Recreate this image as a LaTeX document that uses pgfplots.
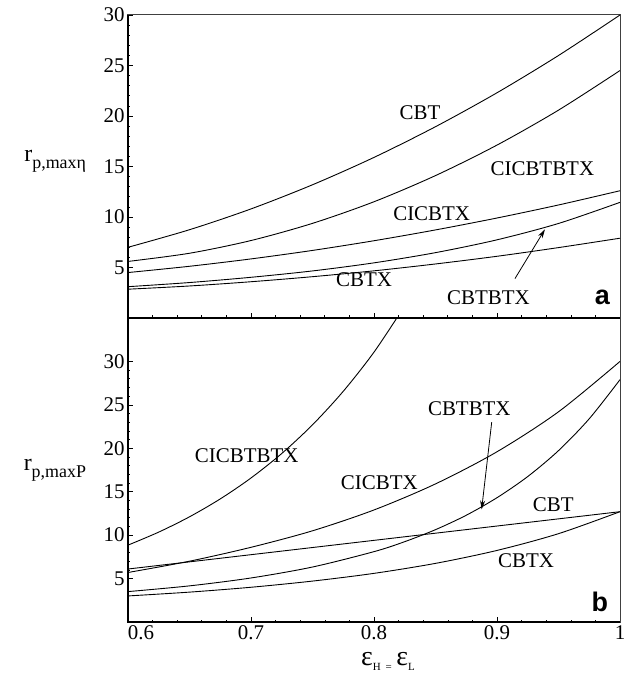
\documentclass[border=0pt]{standalone}
\usepackage{fontspec}
\setmainfont{Liberation Serif}
\newfontfamily\panelfont{Liberation Sans}
\usepackage{pgfplots}
\pgfplotsset{compat=1.18}
\usetikzlibrary{arrows.meta}

\newcommand{\lbl}{\fontsize{21}{24}\selectfont}
\newcommand{\sub}[1]{\raisebox{-0.28em}{\fontsize{18}{20}\selectfont #1}}
\newcommand{\epssub}[1]{\raisebox{-0.2em}{\fontsize{11}{12}\selectfont #1}}

\pgfplotsset{
  panel/.style={
    scale only axis,
    width=492bp,
    xmin=0.6, xmax=1.0,
    xtick={0.6,0.7,0.8,0.9,1.0},
    minor x tick num=4,
    minor y tick num=4,
    ytick={5,10,15,20,25,30},
    tick align=inside,
    xtick pos=bottom, ytick pos=left,
    major tick length=5bp, minor tick length=2.5bp,
    every tick/.style={black, line width=0.6bp},
    axis line style={black!75, line width=1bp},
    /pgf/number format/assume math mode=true,
    tick label style={font=\lbl},
    every axis y label/.style={at={(ticklabel cs:0.5)}, anchor=east, inner sep=0pt, xshift=-14bp},
    cycle list={{black}},
    every axis plot post/.append style={black, line width=0.9bp, smooth, tension=0.5, no markers},
    clip=true,
  },
}

\begin{document}
\begin{tikzpicture}
  % overall page area
  \path (-128bp,-57bp) rectangle (502bp,622bp);

  % ---------- panel b: maximum power ----------
  \begin{axis}[panel, name=bot,
    at={(0,0)}, anchor=south west, height=304bp,
    ymin=0, ymax=35,
    xticklabels={\hspace*{26bp}0.6,0.7,0.8,0.9,1},
    xlabel={\fontsize{28}{30}\selectfont ε\epssub{H}\,\epssub{=}\,ε\epssub{L}},
    xlabel style={inner sep=0pt, yshift=-9bp, xshift=14bp},
    ylabel={\fontsize{24}{26}\selectfont r\sub{p,maxP}},
  ]
    \addplot coordinates {(0.600,8.85)(0.625,10.35)(0.650,12.11)(0.675,14.17)(0.700,16.58)(0.725,19.40)(0.750,22.70)(0.775,26.56)(0.800,31.07)(0.825,36.40)};
    \addplot coordinates {(0.60,5.70)(0.65,7.00)(0.70,8.60)(0.75,10.50)(0.80,12.90)(0.85,15.90)(0.90,19.60)(0.95,24.20)(1.00,30.00)};
    \addplot coordinates {(0.60,6.10)(0.70,7.75)(0.80,9.40)(0.90,11.05)(1.00,12.70)};
    \addplot coordinates {(0.60,3.50)(0.65,4.16)(0.70,5.07)(0.75,6.33)(0.80,8.10)(0.825,9.25)(0.85,10.63)(0.875,12.29)(0.90,14.31)(0.925,16.75)(0.95,19.73)(0.975,23.40)(1.00,27.90)};
    \addplot coordinates {(0.60,3.00)(0.65,3.44)(0.70,4.00)(0.75,4.71)(0.80,5.60)(0.85,6.75)(0.90,8.24)(0.95,10.17)(1.00,12.70)};

    \node[font=\lbl] at (axis cs:0.6965,19.1) {CICBTBTX};
    \node[font=\lbl] at (axis cs:0.8775,24.6) {CBTBTX};
    \node[font=\lbl] at (axis cs:0.8043,16.0) {CICBTX};
    \node[font=\lbl] at (axis cs:0.9458,13.46) {CBT};
    \node[font=\lbl] at (axis cs:0.9236,7.04) {CBTX};
    \draw[-{Stealth[length=9bp,width=5bp]}, line width=0.8bp] (axis cs:0.8957,23.0) -- (axis cs:0.8875,12.96);
    \node[font=\panelfont\bfseries\fontsize{27}{30}\selectfont, anchor=base east, inner sep=0pt] at (rel axis cs:0.976,0.034) {b};
  \end{axis}
  \draw[line width=1.6bp] (0,304bp) -- (0,0) -- (492bp,0);

  % ---------- panel a: maximum efficiency ----------
  \begin{axis}[panel, name=top,
    at={(0,304bp)}, anchor=south west, height=303bp,
    ymin=0, ymax=30,
    xticklabels={},
    ylabel={\fontsize{24}{26}\selectfont r\sub{p,maxη}},
    ylabel style={yshift=5bp},
  ]
    \addplot coordinates {(0.60,7.00)(0.65,8.74)(0.70,10.80)(0.75,13.19)(0.80,15.90)(0.85,18.94)(0.90,22.30)(0.95,25.99)(1.00,30.00)};
    \addplot coordinates {(0.60,5.60)(0.65,6.41)(0.70,7.67)(0.75,9.37)(0.80,11.51)(0.85,14.10)(0.90,17.12)(0.95,20.58)(1.00,24.50)};
    \addplot coordinates {(0.60,4.50)(0.65,5.12)(0.70,5.85)(0.75,6.69)(0.80,7.65)(0.85,8.72)(0.90,9.90)(0.95,11.19)(1.00,12.60)};
    \addplot coordinates {(0.60,3.10)(0.65,3.51)(0.70,4.03)(0.75,4.66)(0.80,5.46)(0.85,6.47)(0.90,7.74)(0.95,9.36)(1.00,11.45)};
    \addplot coordinates {(0.60,2.85)(0.65,3.17)(0.70,3.59)(0.75,4.09)(0.80,4.67)(0.85,5.35)(0.90,6.11)(0.95,6.97)(1.00,7.90)};

    \node[font=\lbl] at (axis cs:0.8374,20.33) {CBT};
    \node[font=\lbl] at (axis cs:0.9369,14.82) {CICBTBTX};
    \node[font=\lbl] at (axis cs:0.8469,10.36) {CICBTX};
    \node[font=\lbl] at (axis cs:0.7919,3.83) {CBTX};
    \node[font=\lbl] at (axis cs:0.893,2.01) {CBTBTX};
    \draw[-{Stealth[length=9bp,width=5bp]}, line width=0.8bp] (axis cs:0.9146,3.9) -- (axis cs:0.939,8.78);
    \node[font=\panelfont\bfseries\fontsize{27}{30}\selectfont, anchor=base east, inner sep=0pt] at (rel axis cs:0.98,0.043) {a};
  \end{axis}
  \draw[line width=1.6bp] (0,607bp) -- (0,304bp) -- (492bp,304bp);
\end{tikzpicture}
\end{document}
